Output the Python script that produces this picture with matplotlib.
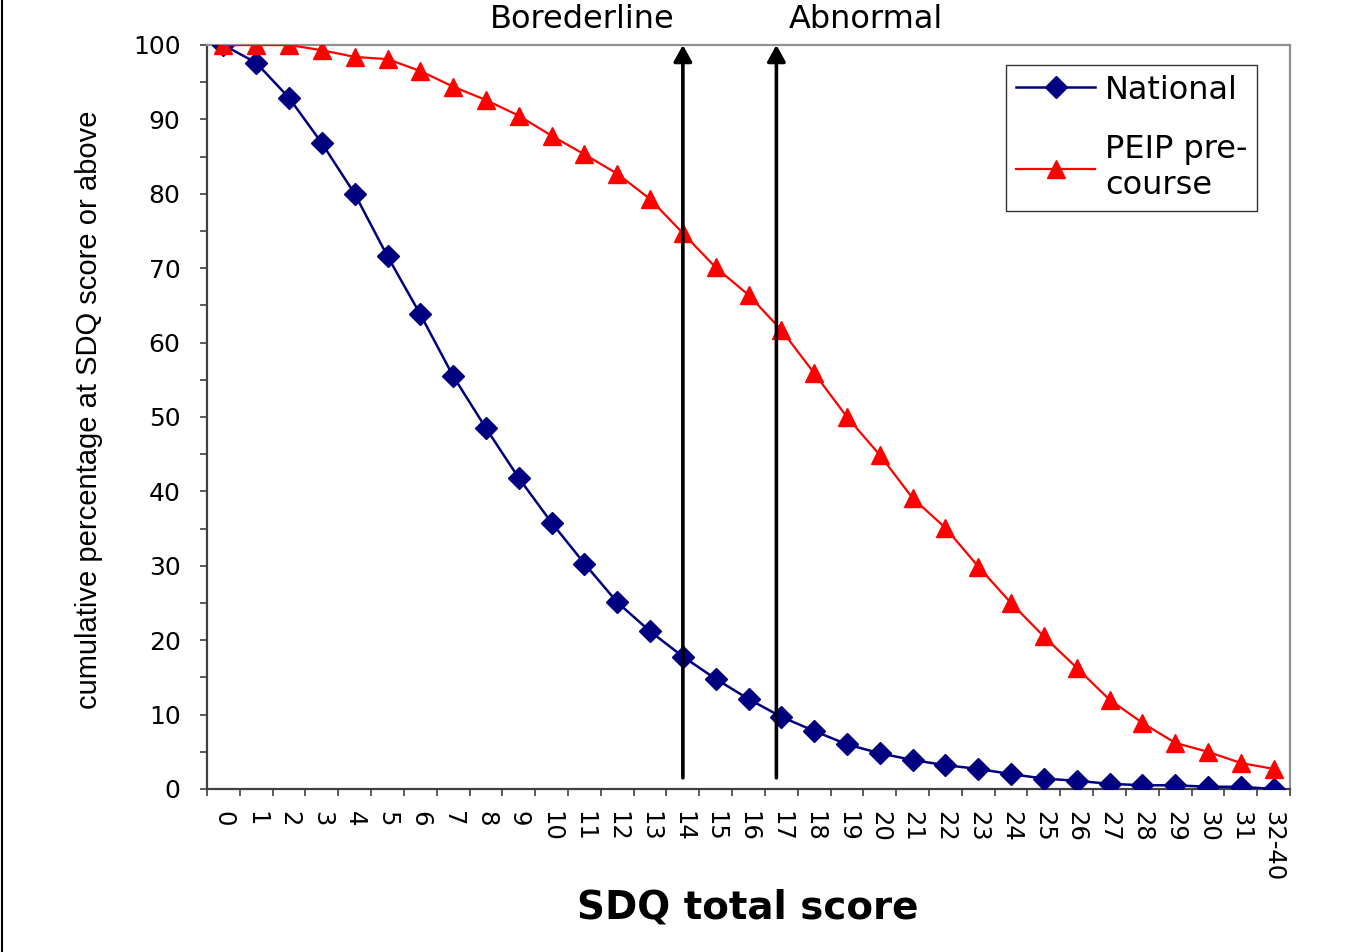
import matplotlib
matplotlib.use("Agg")
import matplotlib.pyplot as plt
from matplotlib.lines import Line2D
import numpy as np

# ---- data ----
categories = [str(i) for i in range(32)] + ["32-40"]
national = [100, 97.6, 92.9, 86.8, 80.0, 71.6, 63.8, 55.5, 48.5, 41.8,
            35.8, 30.3, 25.1, 21.2, 17.8, 14.8, 12.1, 9.7, 7.8, 6.0,
            4.8, 3.9, 3.2, 2.7, 2.0, 1.4, 1.1, 0.7, 0.5, 0.5,
            0.3, 0.3, 0.0]
peip = [100, 100, 100, 99.3, 98.4, 98.1, 96.5, 94.4, 92.6, 90.5,
        87.8, 85.3, 82.7, 79.3, 74.7, 70.1, 66.4, 61.7, 55.9, 50.0,
        44.9, 39.1, 35.1, 29.9, 25.0, 20.5, 16.3, 12.0, 8.9, 6.2,
        5.0, 3.5, 2.7]
series_names = ["National", "PEIP pre-\ncourse"]
threshold_positions = [14, 16.85]
threshold_labels = ["Borederline", "Abnormal"]
y_label = "cumulative percentage at SDQ score or above"
x_label = "SDQ total score"

W, H = 1361, 952
fig = plt.figure(figsize=(W / 100, H / 100), dpi=100)
ax = fig.add_axes([207 / W, 1 - 789 / H, (1290 - 207) / W, (789 - 45) / H])

x = np.arange(len(categories))
ax.plot(x, national, color="#000080", lw=1.8, marker="D", markersize=11,
        label=series_names[0], zorder=3)
ax.plot(x, peip, color="#FF0000", lw=1.6, marker="^", markersize=13.5,
        label=series_names[1], zorder=3)

ax.set_xlim(-0.5, len(categories) - 0.5)
ax.set_ylim(0, 100)

# x ticks: labels at centers, tick marks at boundaries
ax.set_xticks(x)
ax.set_xticklabels(categories, rotation=270, fontsize=17.5, family="DejaVu Sans")
ax.tick_params(axis="x", which="major", length=0, pad=16)
ax.set_xticks(np.arange(-0.5, len(categories), 1), minor=True)
ax.tick_params(axis="x", which="minor", length=5, width=1.2, direction="out",
               color="#404040")

# y ticks
ax.set_yticks(np.arange(0, 101, 10))
ax.set_yticklabels([str(v) for v in range(0, 101, 10)], fontsize=18,
                   family="DejaVu Sans")
ax.set_yticks(np.arange(0, 101, 5), minor=True)
ax.tick_params(axis="y", which="both", length=5, width=1.2, direction="out",
               color="#404040", pad=14)

for s in ["left", "bottom"]:
    ax.spines[s].set_color("#404040")
    ax.spines[s].set_linewidth(1.6)
for s in ["top", "right"]:
    ax.spines[s].set_color("#909090")
    ax.spines[s].set_linewidth(1.6)

# threshold arrows
for xp in threshold_positions:
    ax.annotate("", xy=(xp, 100), xytext=(xp, 1.5),
                arrowprops=dict(arrowstyle="-|>,head_length=0.45,head_width=0.25",
                                lw=2.6, color="black", mutation_scale=22,
                                shrinkA=0, shrinkB=0),
                zorder=4, annotation_clip=False)

fig.text(582 / W, 1 - 19 / H, threshold_labels[0], fontsize=23,
         family="DejaVu Sans", ha="center", va="center")
fig.text(866 / W, 1 - 19 / H, threshold_labels[1], fontsize=23,
         family="DejaVu Sans", ha="center", va="center")

fig.text(89 / W, 1 - 410 / H, y_label, rotation=90, fontsize=21,
         family="Liberation Sans", ha="center", va="center")
fig.text(748 / W, 1 - 908 / H, x_label, fontsize=28, fontweight="bold",
         family="DejaVu Sans", ha="center", va="center")

leg = ax.legend(loc="upper left", bbox_to_anchor=(1006 / W, 1 - 65 / H),
                bbox_transform=fig.transFigure,
                prop={"family": "DejaVu Sans", "size": 23},
                frameon=True, fancybox=False, handlelength=2.5,
                handletextpad=0.3, labelspacing=0.9, borderpad=0.3,
                borderaxespad=0)
leg.get_frame().set_edgecolor("black")
leg.get_frame().set_linewidth(1.0)

# left border line of the chart area
fig.add_artist(Line2D([2 / W, 2 / W], [0, 1], transform=fig.transFigure,
                      color="black", lw=1.5))

fig.savefig("out.png", dpi=100, facecolor="white")
